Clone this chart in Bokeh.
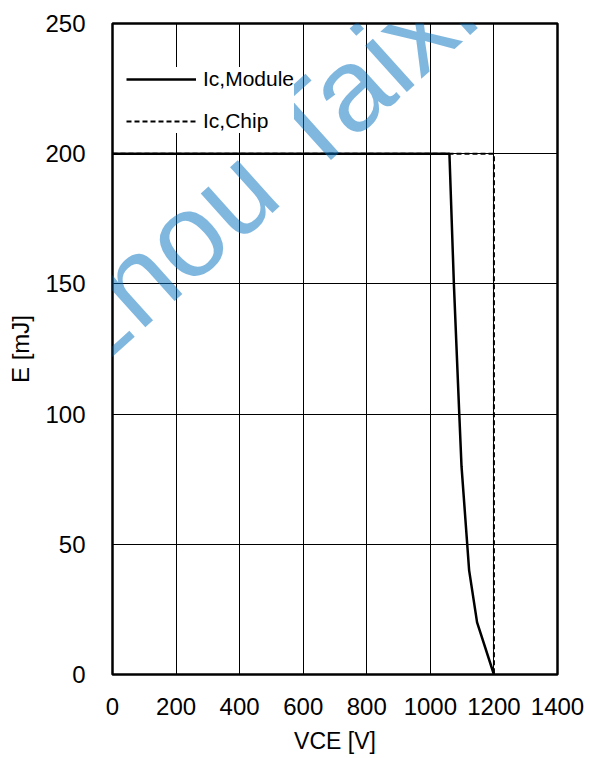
from bokeh.plotting import figure
from bokeh.models import Range1d, FixedTicker, Legend, LegendItem, Label
from bokeh.embed import file_html
from bokeh.resources import INLINE

# ---- data ----
x_ticks = [0, 200, 400, 600, 800, 1000, 1200, 1400]
y_ticks = [0, 50, 100, 150, 200, 250]

module_vce = [0, 1060, 1074, 1091, 1098, 1122, 1147, 1200]
module_e = [200, 200, 150, 100, 80, 40, 20, 0]

chip_vce = [0, 1200, 1200]
chip_e = [200, 200, 0]

series_labels = ["Ic,Module", "Ic,Chip"]
y_label = "E [mJ]"
x_label = "VCE [V]"
watermark_text = "Changzhou Taixin"

FONT = "Liberation Sans"

p = figure(width=590, height=758,
           x_range=Range1d(0, 1400), y_range=Range1d(0, 250),
           output_backend="svg", toolbar_location=None,
           min_border_left=112, min_border_right=33,
           min_border_top=23, min_border_bottom=84)

p.background_fill_color = "white"
p.border_fill_color = "white"
p.outline_line_color = "black"
p.outline_line_width = 2.5

xt = FixedTicker(ticks=x_ticks)
yt = FixedTicker(ticks=y_ticks)
p.xaxis.ticker = xt
p.yaxis.ticker = yt
p.xgrid.ticker = xt
p.ygrid.ticker = yt

for g in (p.xgrid, p.ygrid):
    g.grid_line_color = "black"
    g.grid_line_width = 1
    g.grid_line_alpha = 1.0

for ax in (p.xaxis, p.yaxis):
    ax.axis_line_color = None
    ax.major_tick_line_color = None
    ax.minor_tick_line_color = None
    ax.major_label_text_font = FONT
    ax.major_label_text_font_size = "24px"
    ax.major_label_text_color = "black"
    ax.axis_label_text_font = FONT
    ax.axis_label_text_font_style = "normal"
    ax.axis_label_text_color = "black"

p.xaxis.major_label_standoff = 17
p.yaxis.major_label_standoff = 21

p.yaxis.axis_label = y_label
p.yaxis.axis_label_text_font_size = "24px"
p.yaxis.axis_label_standoff = 8

p.xaxis.axis_label = x_label
p.xaxis.axis_label_text_font_size = "23px"
p.xaxis.axis_label_standoff = 10

r_chip = p.line(chip_vce, chip_e, line_color="black", line_width=2, line_dash="5 3")
r_mod = p.line(module_vce, module_e, line_color="black", line_width=2.5)

legend = Legend(items=[LegendItem(label=series_labels[0], renderers=[r_mod]),
                       LegendItem(label=series_labels[1], renderers=[r_chip])],
                location=(14, 541), orientation="vertical",
                background_fill_color="white", background_fill_alpha=1.0,
                border_line_color=None, padding=10, spacing=18, margin=0,
                glyph_width=70, glyph_height=24, label_height=24,
                label_standoff=7, label_text_font=FONT,
                label_text_font_size="21px", label_text_color="black")
p.add_layout(legend, "center")

# watermark (semi-transparent, drawn over the chart)
p.add_layout(Label(x=-303, y=100, x_units="screen", y_units="screen",
                   text=watermark_text, angle=42, angle_units="deg",
                   text_font=FONT, text_font_size="118px",
                   text_color="#0070C0", text_alpha=0.5,
                   text_baseline="middle", text_align="left"))

open("out.html", "w").write(file_html(p, INLINE))
